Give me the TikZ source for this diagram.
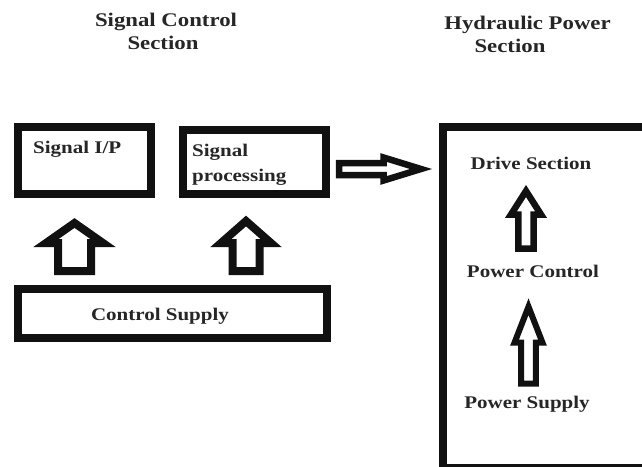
\documentclass[tikz,border=0pt]{standalone}
\usepackage{fontspec}
\setmainfont{Liberation Serif}[FakeStretch=1.18]
\usetikzlibrary{calc}
\definecolor{ink}{HTML}{111111}
\definecolor{txt}{HTML}{262626}
% Hollow block arrow from #2 (tail) to #3 (tip):
% #4 = half width of the shaft, #5 = half width of the head, #6 = head length
\newcommand\blockarrow[6][]{%
  \path ($(#3)!#6!(#2)$) coordinate (ba-base);
  \draw[blockarrowline,#1]
    ($(#2)!#4!90:(#3)$) -- ($(ba-base)!#4!-90:(#2)$) -- ($(ba-base)!#5!-90:(#2)$)
    -- (#3)
    -- ($(ba-base)!#5!90:(#2)$) -- ($(ba-base)!#4!90:(#2)$) -- ($(#2)!#4!-90:(#3)$)
    -- cycle;}
\tikzset{
  box/.style={draw=ink, line width=8pt, inner sep=0pt, outer sep=0pt},
  lbl/.style={text=txt, font=\bfseries\fontsize{17.8}{25}\selectfont, inner sep=0pt},
  heading/.style={text=txt, font=\bfseries\fontsize{19.3}{23}\selectfont, inner sep=0pt},
  blockarrowline/.style={draw=ink, line join=miter, fill=white},
}
\begin{document}
\begin{tikzpicture}[x=1pt,y=-1pt]
\useasboundingbox (0,0) rectangle (642,466);
\fill[white] (0,0) rectangle (642,466);
\clip (0,0) rectangle (642,466);

% section headings
\node[heading, anchor=base] (h1) at (166,26) {Signal Control};
\node[heading, anchor=base] (h2) at (163,49) {Section};
\node[heading, anchor=base] (h3) at (527.5,29) {Hydraulic Power};
\node[heading, anchor=base] (h4) at (510,52) {Section};

% blocks
\node[box, minimum width=133pt, minimum height=67pt] (sigin) at (84.5,160.5) {};
\node[box, minimum width=143pt, minimum height=64pt] (sigproc) at (254.5,162) {};
\node[box, minimum width=309pt, minimum height=49pt] (cs) at (172.5,313.5) {};
\node[box, minimum width=217pt, minimum height=340.5pt] (hyd) at (551.5,297.25) {};

% block texts (a two-line node sits on the baseline of its last line)
\node[lbl, anchor=base west] (tin) at (33,153) {Signal I/P};
\node[lbl, anchor=base west, align=left] (tproc) at (192,181) {Signal\\processing};
\node[lbl, anchor=base] (tcs) at (160,320) {Control Supply};
\node[lbl, anchor=base] (ds) at (531,169) {Drive Section};
\node[lbl, anchor=base] (pc) at (533,277) {Power Control};
\node[lbl, anchor=base] (ps) at (527,408) {Power Supply};

% connectors
\coordinate (a1s) at ($(cs.north)+(-98,-18)$);
\coordinate (a1t) at ($(sigin.south)+(-10,29)$);
\blockarrow[line width=8pt]{a1s}{a1t}{16.5pt}{28.5pt}{20pt}

\coordinate (a2s) at ($(cs.north)+(73.5,-18)$);
\coordinate (a2t) at ($(sigproc.south)+(-8.5,27)$);
\blockarrow[line width=8pt]{a2s}{a2t}{13.5pt}{25pt}{22pt}

\coordinate (a3s) at ($(sigproc.east)+(13,7)$);
\coordinate (a3t) at ($(sigproc.east -| hyd.west)+(-22,7)$);
\blockarrow[line width=6.5pt]{a3s}{a3t}{6pt}{11.5pt}{37.5pt}

\coordinate (a4s) at ($(pc.base)+(-7,-28.5)$);
\coordinate (a4t) at ($(ds.base)+(-5,22)$);
\blockarrow[line width=6.5pt]{a4s}{a4t}{7.7pt}{15pt}{23.5pt}

\coordinate (a5s) at ($(ps.base)+(1.5,-24.3)$);
\coordinate (a5t) at ($(pc.base)+(-4.5,29.7)$);
\blockarrow[line width=6pt]{a5s}{a5t}{7.3pt}{14pt}{36pt}
\end{tikzpicture}
\end{document}
